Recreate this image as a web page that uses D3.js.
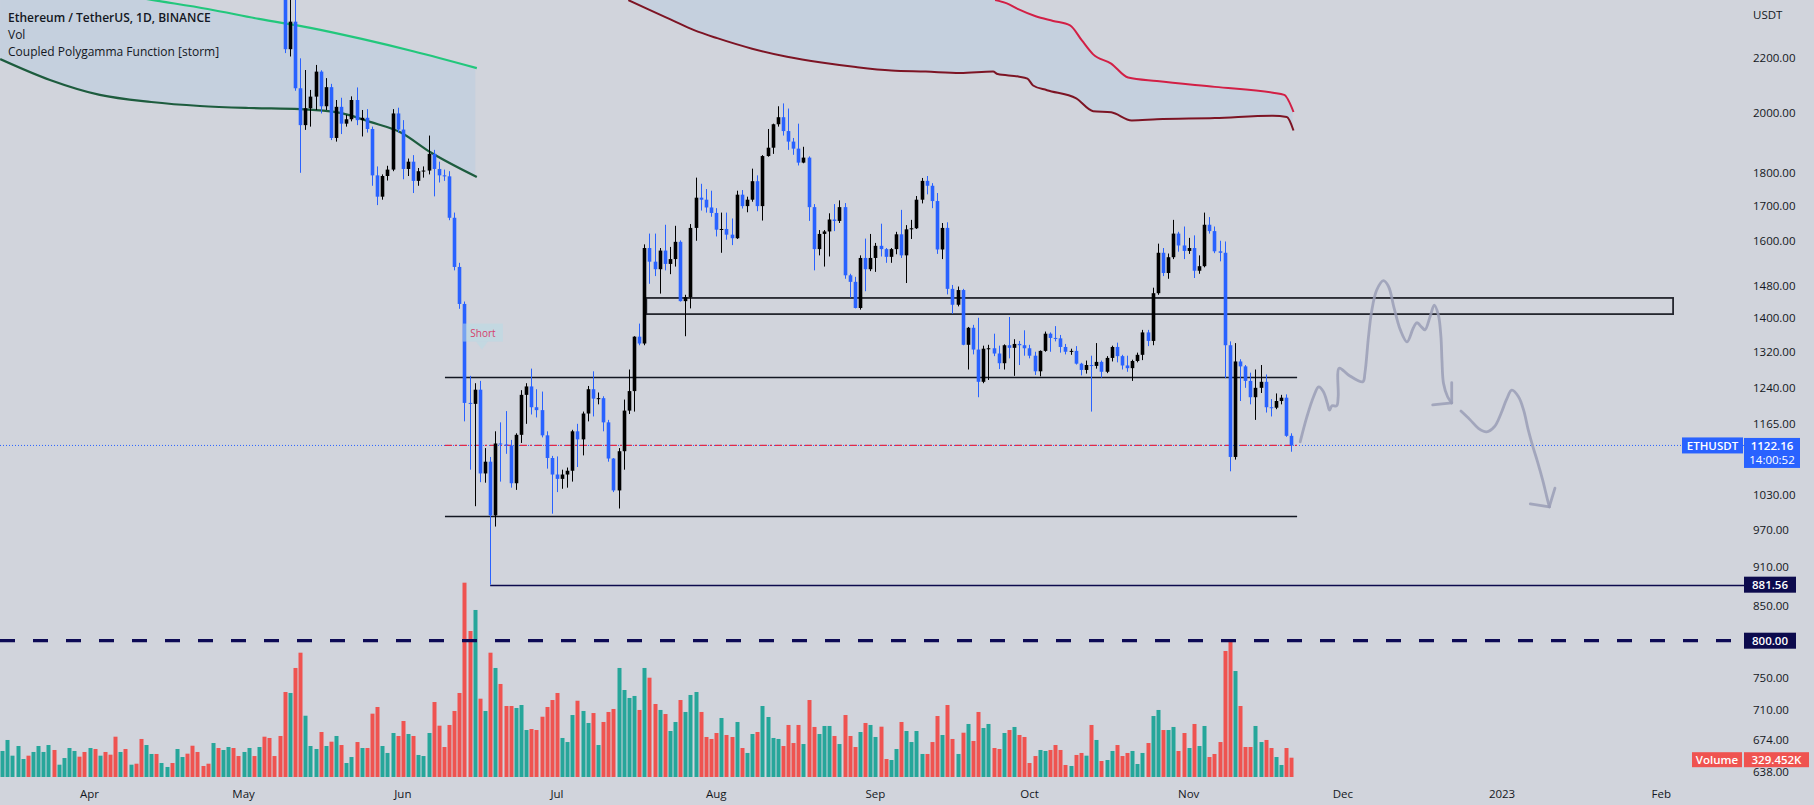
<!DOCTYPE html>
<html><head><meta charset="utf-8">
<script src="https://cdnjs.cloudflare.com/ajax/libs/d3/7.8.5/d3.min.js"></script>
<style>html,body{margin:0;padding:0;background:#d1d4dc;overflow:hidden}text{font-family:"Open Sans","Noto Sans",sans-serif}</style>
</head><body><svg id="c" width="1814" height="805"></svg>
<script>
// ---------------- DATA ----------------
const startDate = "2022-03-15"; // index 0, one bar per day
const opens = [2590,2620,2772,2815,2944,2946,2860,2897,2972,3030,3108,3104,3143,3293,3329,3400,3384,
3281,3455,3444,3522,3520,3411,3170,3233,3192,3260,3210,2980,3030,3118,3018,3040,3060,2990,3057,3103,3077,2987,2964,2937,2922,3006,2808,2888,2936,2816,
2726,2826,2856,2782,2941,2749,2695,2636,2518,2230,2339,2084,1955,2013,2054,2145,2020,2088,1912,2018,1960,1975,2042,1972,1980,1942,1792,1727,1790,1810,1995,
1940,1812,1835,1775,1805,1807,1860,1812,1792,1789,1665,1529,1434,1208,1206,1236,1069,1091,994,1126,1124,1122,1051,1143,1225,1243,1199,1193,1142,1098,
1067,1059,1067,1074,1150,1134,1186,1237,1217,1218,1168,1097,1038,1111,1192,1233,1355,1339,1580,1543,1523,1573,1537,1550,1597,1441,1451,1636,1724,1718,1695,
1679,1631,1633,1617,1607,1733,1699,1718,1774,1699,1853,1880,1958,1982,1935,1900,1877,1832,1848,1696,1577,1619,1626,1660,1656,1696,1507,1490,1424,1553,1523,
1553,1586,1577,1556,1577,1618,1560,1632,1635,1718,1775,1760,1714,1576,1636,1472,1432,1469,1336,1376,1325,1253,1327,1328,1316,1294,1335,1329,1338,1335,
1328,1311,1276,1322,1362,1352,1351,1331,1320,1322,1293,1279,1290,1288,1297,1275,1306,1331,1310,1289,1283,1299,1313,1365,1345,1461,1567,1513,1555,1620,1587,
1572,1580,1519,1531,1645,1627,1571,1567,1335,1100,1298,1287,1255,1220,1240,1253,1199,1198,1212,1219,1141];
const highs = [2650,2790,2835,2950,2990,2950,2950,3045,3040,3135,3190,3150,3300,3440,3480,3445,3435,
3480,3530,3580,3545,3555,3415,3250,3300,3270,3300,3215,3100,3130,3140,3050,3075,3085,3060,3125,3175,3190,3030,2980,2965,3020,3040,2920,2980,2950,2840,
2840,2890,2870,2955,2955,2760,2700,2645,2550,2460,2450,2195,2151,2078,2170,2150,2121,2100,2042,2050,1990,2055,2087,2007,2010,1950,1820,1795,1822,2010,2015,
1972,1845,1856,1815,1820,1920,1873,1835,1810,1805,1680,1540,1440,1266,1250,1255,1117,1100,1150,1168,1191,1133,1146,1235,1250,1282,1237,1232,1150,1102,
1101,1076,1080,1153,1165,1190,1244,1276,1230,1222,1173,1098,1117,1215,1280,1356,1386,1590,1620,1620,1580,1645,1583,1642,1601,1457,1647,1785,1766,1750,1745,
1693,1680,1680,1663,1745,1747,1727,1813,1792,1856,1942,1960,2020,2030,2012,1912,1960,1883,1852,1705,1630,1630,1678,1705,1716,1708,1511,1503,1560,1606,1619,
1594,1648,1580,1580,1625,1688,1644,1659,1729,1784,1790,1768,1738,1650,1652,1482,1478,1472,1378,1383,1400,1334,1336,1362,1334,1337,1402,1349,1345,1370,
1336,1320,1323,1367,1365,1380,1359,1338,1327,1333,1295,1300,1311,1340,1300,1310,1334,1341,1313,1311,1302,1318,1371,1371,1475,1592,1580,1565,1659,1625,1640,
1608,1615,1560,1680,1667,1640,1600,1598,1344,1340,1303,1290,1273,1280,1290,1269,1216,1228,1225,1226,1146];
const lows = [2505,2570,2755,2745,2920,2835,2830,2890,2930,2990,3070,3100,3125,3290,3320,3340,3270,
3210,3440,3420,3405,3410,3170,3150,3180,3190,3200,2950,2950,2995,2990,3005,3015,2985,2880,3030,3065,2950,2950,2925,2900,2790,2795,2790,2850,2780,2720,
2710,2780,2770,2770,2720,2650,2590,2480,2215,2202,2075,1800,1939,1950,2007,1995,2007,1905,1900,1925,1950,1968,1955,1917,1930,1760,1702,1718,1776,1805,1930,
1780,1790,1738,1760,1785,1795,1728,1770,1775,1658,1520,1422,1170,1076,1010,1053,1052,881.56,975,1054,1106,1043,1039,1127,1165,1184,1178,1138,1078,997,
1035,1041,1043,1054,1081,1103,1170,1180,1205,1150,1091,1035,1006,1076,1185,1190,1335,1335,1485,1505,1460,1520,1510,1530,1440,1356,1423,1600,1686,1680,1668,
1612,1567,1603,1588,1605,1692,1681,1712,1684,1657,1851,1860,1950,1920,1873,1857,1823,1830,1656,1520,1560,1530,1557,1627,1650,1498,1450,1423,1420,1466,1518,
1516,1557,1540,1540,1563,1553,1487,1605,1633,1707,1734,1693,1564,1550,1458,1410,1428,1335,1280,1314,1220,1250,1257,1310,1281,1280,1305,1266,1290,1311,
1305,1268,1265,1320,1320,1344,1318,1314,1313,1291,1267,1271,1190,1282,1262,1272,1298,1296,1280,1275,1255,1296,1301,1333,1335,1457,1505,1498,1550,1570,1550,
1564,1500,1511,1528,1620,1566,1544,1261,1073,1095,1212,1240,1205,1173,1229,1188,1180,1195,1205,1139,1110];
const closes = [2620,2772,2815,2944,2946,2860,2897,2972,3030,3108,3104,3143,3293,3329,3400,3384,3281,
3455,3444,3522,3520,3411,3170,3233,3192,3260,3210,2980,3030,3118,3018,3040,3060,2990,3057,3103,3077,2987,2964,2937,2922,3006,2808,2888,2936,2816,2726,
2826,2856,2782,2941,2749,2695,2636,2518,2230,2339,2084,1955,2013,2054,2145,2020,2088,1912,2018,1960,1975,2042,1972,1980,1942,1792,1727,1790,1810,1995,1940,
1812,1835,1775,1805,1807,1860,1812,1792,1789,1665,1529,1434,1208,1206,1236,1069,1091,994,1126,1124,1122,1051,1143,1225,1243,1199,1193,1142,1098,1067,
1059,1067,1074,1150,1134,1186,1237,1217,1218,1168,1097,1038,1111,1192,1233,1355,1339,1580,1543,1523,1573,1537,1550,1597,1441,1451,1636,1724,1718,1695,1679,
1631,1633,1617,1607,1733,1699,1718,1774,1699,1853,1880,1958,1982,1935,1900,1877,1832,1848,1696,1577,1619,1626,1660,1656,1696,1507,1490,1424,1553,1523,1553,
1586,1577,1556,1577,1618,1560,1632,1635,1718,1775,1760,1714,1576,1636,1472,1432,1469,1336,1376,1325,1253,1327,1328,1316,1294,1335,1329,1338,1335,1328,
1311,1276,1322,1362,1352,1351,1331,1320,1322,1293,1279,1290,1288,1297,1275,1306,1331,1310,1289,1283,1299,1313,1365,1345,1461,1567,1513,1555,1620,1587,1572,
1580,1519,1531,1645,1627,1571,1567,1335,1100,1298,1287,1255,1220,1240,1253,1199,1198,1212,1219,1141,1122.16];
// volume in thousands of ETH
const volumes = [444,632,364,529,307,364,427,529,427,546,461,210,324,495,444,347,427,
495,478,364,427,381,688,427,478,210,227,649,546,393,393,239,171,239,478,341,398,534,427,188,227,580,495,461,512,495,
358,427,495,358,512,688,666,358,700,1451,1434,1861,2122,1046,529,478,768,529,603,700,546,239,341,597,495,495,1081,1195,529,410,751,700,
956,734,700,376,358,751,1280,876,512,888,1127,1434,3317,2492,2851,1337,1127,2122,1861,1588,1212,1212,1178,1229,802,819,802,1029,1195,1314,
1434,666,597,1058,1302,1127,922,1092,546,939,1110,1161,1861,1485,1349,1383,1144,1861,1695,1246,1144,1075,785,939,1314,1110,1400,1451,1110,683,649,
751,1007,717,683,939,495,410,734,768,1212,1024,666,649,529,888,580,888,563,1314,854,734,871,871,700,563,1058,700,512,768,922,888,
683,859,307,290,478,939,785,597,785,393,393,597,1041,717,1229,649,393,756,905,615,1110,836,905,495,478,751,802,854,717,683,
239,358,461,444,461,546,461,205,188,376,410,364,888,632,273,290,444,546,358,410,444,222,410,580,1041,1144,802,802,854,444,751,
495,905,529,871,341,393,597,2151,2310,1809,1212,512,512,871,597,632,495,341,205,495,329.452];

const priceTicks = [2200,2000,1800,1700,1600,1480,1400,1320,1240,1165,1030,970,910,850,750,710,674,638];
const monthDates = ["2022-04-01","2022-05-01","2022-06-01","2022-07-01","2022-08-01","2022-09-01","2022-10-01","2022-11-01","2022-12-01","2023-01-01","2023-02-01"];
const monthLabels = ["Apr","May","Jun","Jul","Aug","Sep","Oct","Nov","Dec","2023","Feb"];

// indicator lines: [bar index, price]
const greenUpper = [[-0.4,2525],[10,2492],[20,2462],[30,2426],[40,2391],[50,2350],[60,2314],[70,2270],[80,2222],[92.4,2158]];
const greenLower = [[-0.4,2192],[9.3,2114],[19,2060],[29,2035],[38.5,2021],[48,2014],[58,2010],[65.8,1997],[71.6,1966],[77.5,1931],[83.3,1866],[92.4,1787]];
const redLower = [[121.9,2428],[125.7,2390],[130.2,2347],[134.7,2305],[139.2,2273],[146,2232],[152.8,2201],[159.5,2179],[166.2,2162],[173.1,2149],[179.8,2145],[186.5,2140],[192.9,2145],[193.8,2136],[197.8,2127],[199.6,2119],[200.7,2094],[203.4,2077],[209.1,2048],[212.4,2003],[215.9,1999],[219.9,1971],[224.8,1975],[236.1,1979],[247.4,1987],[250.1,1983],[251.4,1937]];
const redUpper = [[193.3,2428],[195.6,2414],[197.8,2390],[201.2,2361],[204.6,2342],[207.9,2324],[210.2,2264],[212.4,2210],[215.9,2175],[219.2,2123],[224.8,2110],[236.1,2089],[247.4,2068],[249.6,2060],[251.4,2000]];

// drawings
const lastPrice = 1122.16;
const hLines = [{from:86.2,to:252.1,price:1263},{from:86.2,to:252.1,price:993}];
const redDashLine = {from:86.2,to:252.1,price:1122.16};
const boxZone = {from:125.4,to:325.3,top:1449,bottom:1409};
const lowLine = {from:95,price:881.56};
const dashLevel = 800;
const shortLabel = {idx:93.4,price:1325,text:"Short"};
const sketch1 = [[252.7,1129],[254.0,1179],[255.3,1221],[256.3,1242],[257.2,1232],[258.0,1207],[258.4,1193],[258.9,1202],[259.8,1202],[260.1,1221],[260.3,1283],[262.1,1268],[264.9,1253],[265.3,1272],[266.0,1355],[266.6,1415],[267.6,1469],[268.9,1493],[269.9,1478],[271.0,1423],[272.2,1371],[273.5,1343],[274.7,1375],[275.4,1388],[276.4,1377],[277.0,1371],[278.0,1403],[278.8,1431],[279.6,1407],[280.1,1355],[280.3,1301],[280.6,1250],[281.4,1221],[282.2,1208]];
const arrow1 = [[[278.5,1204],[282.2,1208]],[[282.2,1251],[282.2,1208]]];
const sketch2 = [[284.0,1191],[285.8,1173],[287.4,1156],[289.0,1149],[290.5,1159],[291.8,1186],[292.9,1216],[293.9,1235],[295.2,1221],[296.2,1193],[297.1,1153],[298.0,1120],[298.9,1091],[299.9,1057],[300.7,1027],[301.2,1009]];
const arrow2 = [[[297.5,1014],[301.2,1009]],[[302.3,1042],[301.2,1009]]];

// ---------------- CHART ----------------
const W=1814,H=805,PR=1745,VB=777;
const svg=d3.select('#c');
const x=d3.scaleLinear().domain([-0.428,339.3]).range([0,PR]);
const y=d3.scaleLog().domain([2000,800]).range([112,640.7]);
const yv=d3.scaleLinear().domain([0,329.452]).range([VB,757.7]);
const t0=Date.parse(startDate+"T00:00:00Z");
const dayIdx=s=>(Date.parse(s+"T00:00:00Z")-t0)/864e5;

svg.append('rect').attr('width',W).attr('height',H).attr('fill','#d1d4dc');
svg.append('defs').append('clipPath').attr('id','clip').append('rect').attr('x',0).attr('y',0).attr('width',PR).attr('height',VB+1);
const g=svg.append('g').attr('clip-path','url(#clip)');

// band fills
function interp(arr){return d3.scaleLinear().domain(arr.map(d=>d[0])).range(arr.map(d=>Math.log(d[1]))).clamp(true);}
const gu=interp(greenUpper), gl=interp(greenLower);
const gSamples=d3.range(-0.4,92.41,0.5);
g.append('path').datum(gSamples).attr('fill','#9fc5e8').attr('fill-opacity',0.24)
 .attr('d',d3.area().x(i=>x(i)).y0(i=>y(Math.exp(gl(i)))).y1(i=>y(Math.exp(gu(i)))));
const ru=interp(redUpper), rl=interp(redLower);
const rSamples=d3.range(121.9,251.41,0.3);
g.append('path').datum(rSamples).attr('fill','#9fc5e8').attr('fill-opacity',0.24)
 .attr('d',d3.area().x(i=>x(i)).y0(i=>y(Math.exp(rl(i)))).y1(i=>i<redUpper[0][0]?-5:y(Math.exp(ru(i)))));

const lineG=d3.line().x(d=>x(d[0])).y(d=>y(d[1])).curve(d3.curveMonotoneX);
g.append('path').datum(greenUpper).attr('d',lineG).attr('fill','none').attr('stroke','#22c77c').attr('stroke-width',2.2);
g.append('path').datum(greenLower).attr('d',lineG).attr('fill','none').attr('stroke','#1d5c3e').attr('stroke-width',2.2);
g.append('path').datum(redLower).attr('d',lineG).attr('fill','none').attr('stroke','#7d1424').attr('stroke-width',2);
g.append('path').datum(redUpper).attr('d',lineG).attr('fill','none').attr('stroke','#d21f45').attr('stroke-width',2);

// volume
const vols=volumes.map((v,i)=>({i,v,up:closes[i]>=opens[i]}));
g.append('g').selectAll('rect').data(vols).join('rect')
 .attr('x',d=>Math.round(x(d.i))-1.5).attr('width',4)
 .attr('y',d=>yv(d.v)).attr('height',d=>VB-yv(d.v))
 .attr('fill',d=>d.up?'#26a69a':'#ef5350');

// horizontal drawings
hLines.forEach(l=>g.append('line').attr('x1',x(l.from)).attr('x2',x(l.to)).attr('y1',Math.round(y(l.price))+0.5).attr('y2',Math.round(y(l.price))+0.5).attr('stroke','#131722').attr('stroke-width',1.3));
g.append('rect').attr('x',x(boxZone.from)).attr('width',x(boxZone.to)-x(boxZone.from)).attr('y',y(boxZone.top)).attr('height',y(boxZone.bottom)-y(boxZone.top)).attr('fill','none').attr('stroke','#24262e').attr('stroke-width',1.8);
g.append('line').attr('x1',x(lowLine.from)).attr('x2',PR).attr('y1',Math.round(y(lowLine.price))+0.5).attr('y2',Math.round(y(lowLine.price))+0.5).attr('stroke','#0c0a4d').attr('stroke-width',1.3);
// last price dotted
g.append('line').attr('x1',0).attr('x2',PR).attr('y1',y(lastPrice)).attr('y2',y(lastPrice)).attr('stroke','#2962ff').attr('stroke-width',1).attr('stroke-dasharray','1,2');
g.append('line').attr('x1',x(redDashLine.from)).attr('x2',x(redDashLine.to)).attr('y1',y(redDashLine.price)).attr('y2',y(redDashLine.price)).attr('stroke','#e0284a').attr('stroke-width',1.2).attr('stroke-dasharray','7,3,2,3');

// candles
const candles=closes.map((c,i)=>({i,o:opens[i],h:highs[i],l:lows[i],c}));
const cg=g.append('g');
candles.forEach(d=>{
  const cx=Math.round(x(d.i)); const col=d.c>=d.o?'#000000':'#2962ff';
  cg.append('rect').attr('x',cx).attr('width',1).attr('y',y(d.h)).attr('height',Math.max(1,y(d.l)-y(d.h))).attr('fill',col);
  const top=y(Math.max(d.o,d.c)), bot=y(Math.min(d.o,d.c));
  cg.append('rect').attr('x',cx-1.3).attr('width',3.6).attr('y',top).attr('height',Math.max(1,bot-top)).attr('fill',col);
});

// 800 dashed level
g.append('line').attr('x1',0).attr('x2',PR).attr('y1',y(dashLevel)).attr('y2',y(dashLevel)).attr('stroke','#0d0a55').attr('stroke-width',3.2).attr('stroke-dasharray','15,18');

// sketch
const lineS=d3.line().x(d=>x(d[0])).y(d=>y(d[1])).curve(d3.curveCatmullRom);
const sk=g.append('g').attr('fill','none').attr('stroke','#9a9eb6').attr('stroke-opacity',0.85).attr('stroke-width',2.8).attr('stroke-linecap','round').attr('stroke-linejoin','round');
sk.append('path').datum(sketch1).attr('d',lineS);
sk.append('path').datum(sketch2).attr('d',lineS);
arrow1.concat(arrow2).forEach(a=>sk.append('path').datum(a).attr('d',d3.line().x(d=>x(d[0])).y(d=>y(d[1]))));

// Short label
const sx=x(shortLabel.idx), sy=y(shortLabel.price);
g.append('rect').attr('x',sx-19).attr('y',sy-26).attr('width',40).attr('height',18).attr('fill','#b8dbe6').attr('fill-opacity',0.55);
g.append('path').attr('d',`M${sx-6},${sy-8}L${sx},${sy}L${sx+6},${sy-8}Z`).attr('fill','#b8dbe6').attr('fill-opacity',0.55);
g.append('text').attr('x',sx+1).attr('y',sy-17).attr('text-anchor','middle').attr('dominant-baseline','central').attr('font-size',10).attr('fill','#d6416b').text(shortLabel.text);

// legend
const lg=svg.append('g').attr('fill','#131722');
lg.append('text').attr('x',8).attr('y',17).attr('dominant-baseline','central').attr('font-size',12).attr('font-weight',600).text('Ethereum / TetherUS, 1D, BINANCE');
lg.append('text').attr('x',8).attr('y',34).attr('dominant-baseline','central').attr('font-size',12).text('Vol');
lg.append('text').attr('x',8).attr('y',51).attr('dominant-baseline','central').attr('font-size',12).text('Coupled Polygamma Function [storm]');

// right axis
const ax=svg.append('g');
ax.append('text').attr('x',1753).attr('y',14).attr('dominant-baseline','central').attr('font-size',11.5).attr('fill','#131722').text('USDT');
ax.selectAll('text.tick').data(priceTicks).join('text').attr('class','tick')
 .attr('x',1753).attr('y',d=>y(d)).attr('dominant-baseline','central').attr('font-size',11.5).attr('fill','#131722').text(d=>d3.format('.2f')(d));

function tag(x0,w,yc,h,fill,lines,bold){
  ax.append('rect').attr('x',x0).attr('y',yc-h/2).attr('width',w).attr('height',h).attr('fill',fill);
  lines.forEach((t,k)=>ax.append('text').attr('x',x0+w/2).attr('y',yc-(lines.length-1)*7+k*14).attr('text-anchor','middle').attr('dominant-baseline','central').attr('font-size',11.5).attr('font-weight',bold?600:400).attr('fill','#ffffff').text(t));
}
const yl=y(lastPrice);
tag(1682,61,yl,16,'#2962ff',['ETHUSDT'],true);
ax.append('rect').attr('x',1744).attr('y',yl-7.5).attr('width',56).attr('height',30).attr('fill','#2962ff');
ax.append('text').attr('x',1772).attr('y',yl+0.5).attr('text-anchor','middle').attr('dominant-baseline','central').attr('font-size',11.5).attr('font-weight',600).attr('fill','#fff').text(d3.format('.2f')(lastPrice));
ax.append('text').attr('x',1772).attr('y',yl+14.5).attr('text-anchor','middle').attr('dominant-baseline','central').attr('font-size',11.5).attr('fill','#fff').text('14:00:52');
tag(1744,52,y(lowLine.price),16,'#0c0a4d',[d3.format('.2f')(lowLine.price)],true);
tag(1744,52,y(dashLevel),16,'#0c0a4d',[d3.format('.2f')(dashLevel)],true);
const yvl=yv(volumes[volumes.length-1]);
tag(1692,50,yvl+2,15,'#ef5350',['Volume'],true);
tag(1744,65,yvl+2,15,'#ef5350',[d3.format('.3f')(volumes[volumes.length-1])+'K'],true);

// bottom axis
svg.append('g').selectAll('text').data(monthDates).join('text')
 .attr('x',d=>x(dayIdx(d))).attr('y',793).attr('text-anchor','middle').attr('dominant-baseline','central')
 .attr('font-size',11.5).attr('fill','#131722').text((d,k)=>monthLabels[k]);
</script></body></html>
